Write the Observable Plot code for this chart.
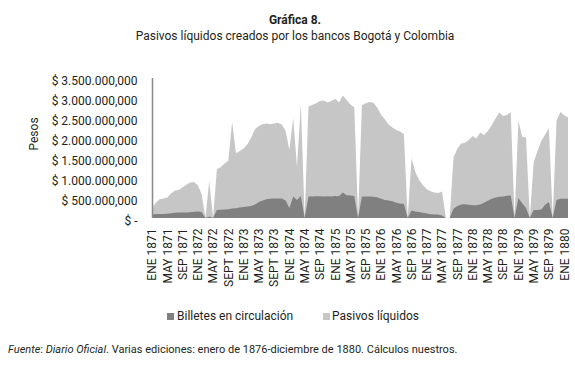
<!DOCTYPE html>
<html><head><meta charset="utf-8">
<script src="https://cdn.jsdelivr.net/npm/d3@7"></script>
<script src="https://cdn.jsdelivr.net/npm/@observablehq/plot@0.6"></script>
<style>
body{margin:0;background:#fff;width:575px;height:369px;position:relative;overflow:hidden;font-family:Roboto,sans-serif;color:#231f20}
#title{position:absolute;left:0;width:590px;top:13px;text-align:center;font-weight:bold;font-size:12px;line-height:14px}
#subtitle{position:absolute;left:0;width:590px;top:29px;text-align:center;font-size:12px;line-height:14px}
#chart{position:absolute;left:0;top:48px}
#legend{position:absolute;left:0;top:308px;width:575px;height:16px;font-size:12px;line-height:16px}
#legend .sw{position:absolute;top:5px;width:7px;height:7px}
#legend .lb{position:absolute;top:0}
#caption{position:absolute;left:8px;top:343px;font-size:11px;line-height:14px;white-space:nowrap}
</style>
</head><body>
<div id="title">Gráfica 8.</div>
<div id="subtitle">Pasivos líquidos creados por los bancos Bogotá y Colombia</div>
<div id="chart"></div>
<div id="legend">
  <div class="sw" style="left:167px;background:#808080"></div><div class="lb" style="left:177px">Billetes en circulación</div>
  <div class="sw" style="left:323px;background:#c6c6c6"></div><div class="lb" style="left:332px">Pasivos líquidos</div>
</div>
<div id="caption"><i>Fuente</i>: <i>Diario Oficial</i>. Varias ediciones: enero de 1876-diciembre de 1880. Cálculos nuestros.</div>
<script>
// Monthly values (millions of pesos), January 1871 to February 1880
const pasivos = [250,380,470,490,510,610,690,700,770,830,890,900,820,600,0,925,0,
  1220,1270,1360,1430,2400,1620,1675,1735,1845,2010,2220,2300,2345,2360,2345,2360,2380,2340,2180,1700,
  2500,1270,2860,0,
  2790,2825,2870,2925,2940,2885,2925,2980,2885,3060,2950,2840,2760,0,
  2820,2870,2900,2880,2760,2590,2470,2340,2260,2200,2160,2100,0,
  1500,1150,950,820,720,670,640,625,660,0,0,
  1510,1730,1860,1880,1950,2050,1985,2135,2075,2175,2320,2485,2635,2550,2575,2650,0,
  2430,2030,2010,0,
  1385,1675,1925,2090,2235,0,
  2440,2650,2570,2510];
const billetes = [90,100,100,100,105,120,130,135,135,140,145,155,160,150,0,40,0,
  200,205,210,220,240,245,260,275,285,300,340,400,440,470,480,485,490,490,440,250,
  540,450,550,0,
  540,540,545,545,540,545,540,550,545,640,570,560,550,0,
  540,540,535,530,520,480,450,440,420,380,360,350,0,
  190,160,150,130,110,95,90,85,60,0,0,
  230,300,340,345,330,320,320,340,380,430,480,510,530,540,555,565,0,
  500,370,250,0,
  200,200,210,330,400,0,
  450,480,480,480];
const xLabels = ["ENE 1871","MAY 1871","SEP 1871","ENE 1872","MAY 1872","SEPT 1872","ENE 1873","MAY 1873","SEPT 1873","ENE 1874","MAY 1874","SEP 1874","ENE 1875","MAY 1875","SEP 1875","ENE 1876","MAY 1876","SEP 1876","ENE 1877","MAY 1877","SEP 1877","ENE 1878","MAY 1878","SEP 1878","ENE 1879","MAY 1879","SEP 1879","ENE 1880"];
const yTicks = [0,500,1000,1500,2000,2500,3000,3500];
const yLabels = ["$ -","$ 500.000,000","$ 1.000.000,000","$ 1.500.000,000","$ 2.000.000,000","$ 2.500.000,000","$ 3.000.000,000","$ 3.500.000,000"];

const rows = pasivos.map((p, i) => ({m: i, pasivos: p, billetes: billetes[i]}));
const xTicks = xLabels.map((_, i) => i * 4);
const xMap = new Map(xTicks.map((t, i) => [t, xLabels[i]]));
const yMap = new Map(yTicks.map((t, i) => [t, yLabels[i]]));

const chart = Plot.plot({
  width: 575, height: 252,
  marginLeft: 152, marginRight: 7, marginTop: 30, marginBottom: 82,
  x: {type: "linear", domain: [0, rows.length - 1]},
  y: {domain: [0, 3500]},
  style: {fontFamily: "Roboto, sans-serif", fontSize: "12px", color: "#231f20", background: "transparent"},
  marks: [
    Plot.areaY(rows, {x: "m", y: "pasivos", fill: "#c6c6c6"}),
    Plot.areaY(rows, {x: "m", y: "billetes", fill: "#808080"}),
    Plot.ruleX([0], {y1: 0, y2: 3500, stroke: "#8a8a8a", strokeWidth: 1.5}),
    Plot.axisY({ticks: yTicks, tickFormat: d => yMap.get(d), tickSize: 0, tickPadding: 15, label: null, dy: 2.5, fontSize: 12}),
    Plot.axisX({ticks: xTicks, tickFormat: d => xMap.get(d), tickSize: 0, tickRotate: -90, tickPadding: 10, label: null, fontSize: 12}),
    Plot.text(["Pesos"], {frameAnchor: "left", dx: -118, dy: 2, rotate: -90, fontSize: 12})
  ]
});
document.getElementById("chart").appendChild(chart);
</script>
</body></html>
